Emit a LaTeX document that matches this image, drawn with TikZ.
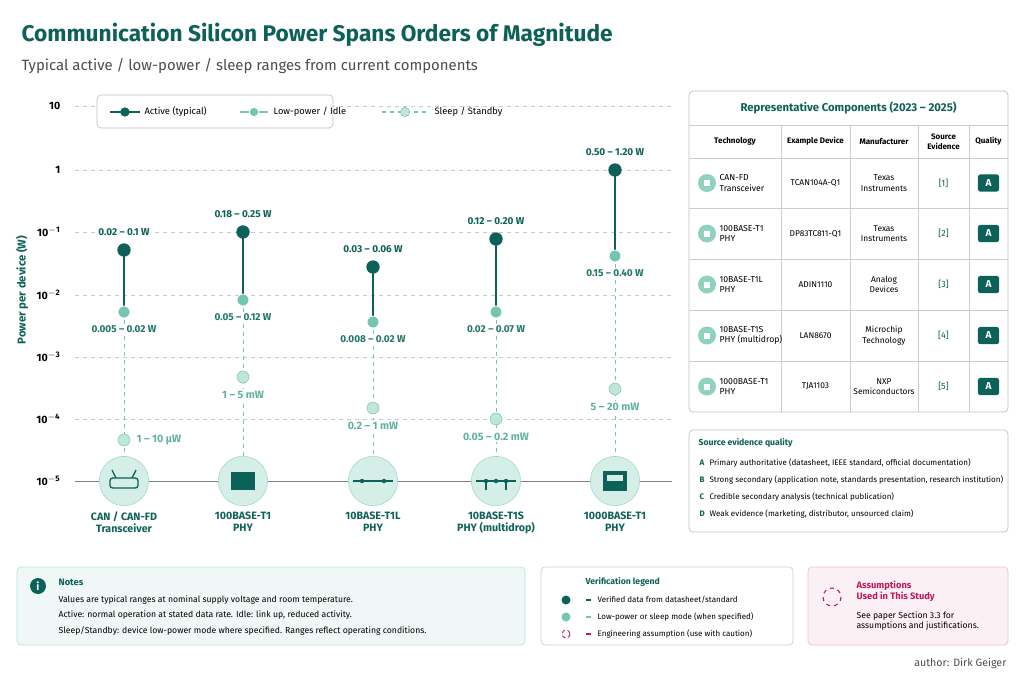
\documentclass[tikz,border=0pt]{standalone}
\usepackage{fontspec}
\setmainfont{Fira Sans}
\usepackage{tikz}
\usetikzlibrary{positioning, arrows.meta}
\definecolor{dteal}{HTML}{0E6158}
\definecolor{lteal}{HTML}{74C6B0}
\definecolor{pteal}{HTML}{D6EEE8}
\definecolor{gridc}{HTML}{C8C8C8}
\definecolor{pinkc}{HTML}{C2185B}
\begin{document}
\begin{tikzpicture}[x=0.75pt, y=-0.75pt,
  every node/.style={inner sep=1pt},
  active/.style={circle, fill=dteal, minimum size=10pt, inner sep=0},
  lowp/.style={circle, fill=lteal, draw=white, line width=0.6pt, minimum size=9pt, inner sep=0},
  sleep/.style={circle, fill=lteal!45, draw=lteal, minimum size=9pt, inner sep=0},
  vlab/.style={font=\fontsize{7.5}{9}\selectfont\bfseries, fill=white, inner sep=1.5pt},
  slab/.style={vlab, text=lteal!80!dteal, font=\fontsize{8}{9}\selectfont\bfseries},
  grid line/.style={gridc, dashed, line width=0.4pt},
  icon/.style={circle, fill=pteal, draw=lteal!70, minimum size=37pt, inner sep=0},
  tech/.style={font=\fontsize{8}{9.5}\selectfont\bfseries, text=dteal, align=center},
  panel/.style={rounded corners=3pt, line width=0.5pt},
  small/.style={font=\fontsize{6}{7.5}\selectfont, align=left, anchor=west},
  cell/.style={font=\fontsize{6.3}{8}\selectfont, align=center},
  grade/.style={fill=dteal, text=white, rounded corners=2pt, minimum width=16pt, minimum height=13pt, font=\fontsize{7.5}{9}\selectfont\bfseries}]
\useasboundingbox (0,0) rectangle (1024,683);

% Title
\node[anchor=west, text=dteal, font=\fontsize{17}{20}\selectfont\bfseries] (title) at (20,35) {Communication Silicon Power Spans Orders of Magnitude};
\node[anchor=west, text=black!70, font=\fontsize{11.2}{13}\selectfont] (subtitle) at (20,66) {Typical active / low-power / sleep ranges from current components};

% Axis and grid
\foreach \lab/\yy in {10/106, 1/170, 10^{-1}/232, 10^{-2}/295, 10^{-3}/357, 10^{-4}/419} {
  \draw[grid line] (75,\yy) -- (672,\yy);
  \node[anchor=east, font=\fontsize{8}{9}\selectfont\bfseries] at (62,\yy) {$\mathbf{\lab}$};
}
\node[anchor=east, font=\fontsize{8}{9}\selectfont\bfseries] at (62,481) {$\mathbf{10^{-5}}$};
\draw[black!50, line width=0.6pt] (75,481) -- (672,481);
\node[rotate=90, text=dteal, font=\fontsize{8.5}{10}\selectfont\bfseries] (ylab) at (22,290) {Power per device (W)};

% Legend
\draw[panel, draw=black!25, fill=white] (97,95) rectangle (333,128);
\draw[dteal, line width=1pt] (110,112) -- (140,112);
\node[active, minimum size=7pt] (la) at (125,112) {};
\node[anchor=west, font=\fontsize{7}{8}\selectfont] at (143,112) {Active (typical)};
\draw[lteal, line width=1pt] (240,112) -- (268,112);
\node[lowp, minimum size=7pt] (ll) at (254,112) {};
\node[anchor=west, font=\fontsize{7}{8}\selectfont] at (272,112) {Low-power / Idle};
\draw[lteal, dashed, line width=0.8pt] (382,112) -- (428,112);
\node[sleep, minimum size=7pt] (ls) at (405,112) {};
\node[anchor=west, font=\fontsize{7}{8}\selectfont] at (433,112) {Sleep / Standby};

% Data columns: x / active y / low y / sleep y / labels
\foreach \n/\x/\ya/\yl/\ys/\ta/\tl/\tech in {
  can/124/250/312/440/{0.02 -- 0.1 W}/{0.005 -- 0.02 W}/{CAN / CAN-FD\\Transceiver},
  hb/243/232/300/377/{0.18 -- 0.25 W}/{0.05 -- 0.12 W}/{100BASE-T1\\PHY},
  tl/373/267/322/408/{0.03 -- 0.06 W}/{0.008 -- 0.02 W}/{10BASE-T1L\\PHY},
  ts/496/239/312/419/{0.12 -- 0.20 W}/{0.02 -- 0.07 W}/{10BASE-T1S\\PHY (multidrop)},
  gb/615/170/256/389/{0.50 -- 1.20 W}/{0.15 -- 0.40 W}/{1000BASE-T1\\PHY}} {
  \node[icon] (\n-i) at (\x,481) {};
  \draw[dteal, line width=1.2pt] (\x,\ya) -- (\x,\yl);
  \draw[lteal, dashed, line width=0.7pt] (\x,\yl) -- (\n-i);
  \node[active] (\n-a) at (\x,\ya) {};
  \node[lowp] (\n-l) at (\x,\yl) {};
  \node[sleep] (\n-s) at (\x,\ys) {};
  \node[vlab, text=dteal, above=4pt of \n-a] {\ta};
  \node[vlab, text=dteal!80!lteal, below=4pt of \n-l] {\tl};
  \node[tech, below=3pt of \n-i] {\tech};
}
\node[slab, right=3pt of can-s] {1 -- 10 µW};
\node[slab, below=4pt of hb-s] {1 -- 5 mW};
\node[slab, below=4pt of tl-s] {0.2 -- 1 mW};
\node[slab, below=4pt of ts-s] {0.05 -- 0.2 mW};
\node[slab, below=4pt of gb-s] {5 -- 20 mW};

% Icon glyphs
\draw[dteal, line width=1pt, rounded corners=2pt] (110,478) rectangle (138,488);
\draw[dteal, line width=1pt] (116,478) -- (112,470) (132,478) -- (136,470);
\fill[dteal] (231,472) rectangle (255,490);
\draw[dteal, line width=1pt] (353,481) -- (393,481);
\fill[dteal] (362,481) circle (2.2) (384,481) circle (2.2);
\draw[dteal, line width=1pt] (476,481) -- (516,481) (486,481) -- (486,490) (506,481) -- (506,490);
\fill[dteal] (486,481) circle (2.2) (506,481) circle (2.2) (496,481) circle (2.2);
\fill[dteal] (603,471) rectangle (627,491);
\fill[pteal] (607,475) rectangle (623,481);

% Table
\draw[panel, draw=black!25, fill=white] (689,91) rectangle (1008,412);
\node[text=dteal, font=\fontsize{8.5}{10}\selectfont\bfseries] (ttitle) at (848.5,108) {Representative Components (2023 -- 2025)};
\foreach \yy in {125,158,208,259,310,361}
  \draw[black!20, line width=0.5pt] (689,\yy) -- (1008,\yy);
\foreach \xx in {781,850,918,969}
  \draw[black!20, line width=0.5pt] (\xx,125) -- (\xx,412);
\foreach \xx/\h in {735/Technology, 815.5/Example Device, 884/Manufacturer, 943.5/{Source\\Evidence}, 988.5/Quality}
  \node[cell, font=\fontsize{6}{7.5}\selectfont\bfseries] at (\xx,141.5) {\h};
\foreach \yy/\t/\d/\m/\s in {
  183/{CAN-FD\\Transceiver}/TCAN104A-Q1/{Texas\\Instruments}/1,
  233.5/{100BASE-T1\\PHY}/DP83TC811-Q1/{Texas\\Instruments}/2,
  284.5/{10BASE-T1L\\PHY}/ADIN1110/{Analog\\Devices}/3,
  335.5/{10BASE-T1S\\PHY (multidrop)}/LAN8670/{Microchip\\Technology}/4,
  386.5/{1000BASE-T1\\PHY}/TJA1103/{NXP\\Semiconductors}/5} {
  \fill[lteal!80] (707,\yy) circle (9);
  \fill[white] (704,\yy-3) rectangle (710,\yy+3);
  \node[small, font=\fontsize{6.5}{8}\selectfont] at (718,\yy) {\t};
  \node[cell] at (815.5,\yy) {\d};
  \node[cell] at (884,\yy) {\m};
  \node[cell, text=dteal, font=\fontsize{6.8}{8}\selectfont] at (943.5,\yy) {[\s]};
  \node[grade] at (988.5,\yy) {A};
}

% Source evidence quality
\draw[panel, draw=black!25, fill=white] (689,430) rectangle (1008,532);
\node[anchor=west, text=dteal, font=\fontsize{6.5}{8}\selectfont\bfseries] (sq) at (697,443) {Source evidence quality};
\foreach \yy/\g/\t in {463/A/{Primary authoritative (datasheet, IEEE standard, official documentation)},
  480/B/{Strong secondary (application note, standards presentation, research institution)},
  497/C/{Credible secondary analysis (technical publication)},
  514/D/{Weak evidence (marketing, distributor, unsourced claim)}} {
  \node[small, text=dteal, font=\fontsize{6}{7.5}\selectfont\bfseries] at (698,\yy) {\g};
  \node[small] at (708,\yy) {\t};
}

% Notes
\draw[panel, draw=lteal!50, fill=pteal!40] (17,567) rectangle (525,645);
\fill[dteal] (38,586) circle (8);
\node[text=white, font=\fontsize{8}{9}\selectfont\bfseries] (inf) at (38,586) {i};
\node[small, text=dteal, font=\fontsize{7}{8}\selectfont\bfseries] at (57,582) {Notes};
\foreach \yy/\t in {600/{Values are typical ranges at nominal supply voltage and room temperature.},
  615/{Active: normal operation at stated data rate. Idle: link up, reduced activity.},
  631/{Sleep/Standby: device low-power mode where specified. Ranges reflect operating conditions.}}
  \node[small, font=\fontsize{6.5}{8}\selectfont] at (57,\yy) {\t};

% Verification legend
\draw[panel, draw=black!20, fill=white] (541,567) rectangle (793,645);
\node[small, text=dteal, font=\fontsize{6.5}{8}\selectfont\bfseries] (vl) at (584,582) {Verification legend};
\fill[dteal] (566,600) circle (4.5);
\fill[lteal] (566,617) circle (4.5);
\draw[pinkc, densely dashed, line width=0.7pt] (566,634) circle (4);
\foreach \yy/\c/\t in {600/dteal/{Verified data from datasheet/standard},
  617/lteal/{Low-power or sleep mode (when specified)},
  634/pinkc/{Engineering assumption (use with caution)}} {
  \draw[\c, line width=1pt] (586,\yy) -- (591,\yy);
  \node[small, font=\fontsize{6}{7.5}\selectfont] at (596,\yy) {\t};
}

% Assumptions
\draw[panel, draw=pinkc!30, fill=pinkc!6] (808,567) rectangle (1008,645);
\draw[pinkc, dashed, line width=0.8pt] (832,597) circle (9);
\node[small, text=pinkc, font=\fontsize{7}{8.5}\selectfont\bfseries] (asm) at (855,591) {Assumptions\\Used in This Study};
\node[small, font=\fontsize{6.5}{8}\selectfont] at (855,621) {See paper Section 3.3 for\\assumptions and justifications.};

\node[anchor=east, text=black!70, font=\fontsize{8}{10}\selectfont] (author) at (1008,663) {author: Dirk Geiger};
\end{tikzpicture}
\end{document}
